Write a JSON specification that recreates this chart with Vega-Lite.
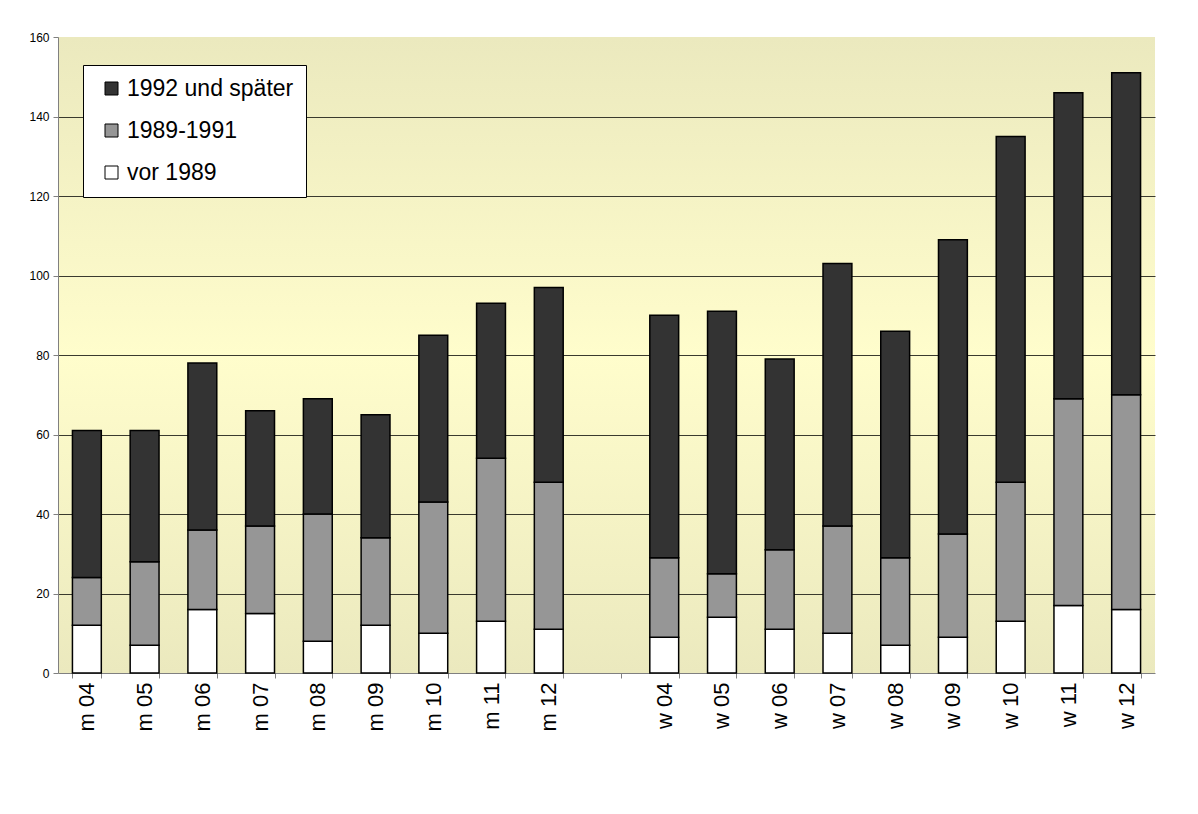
{
  "$schema": "https://vega.github.io/schema/vega-lite/v6.json",
  "autosize": "none",
  "padding": {"left": 58, "top": 37, "right": 43, "bottom": 141},
  "width": 1097,
  "height": 636,
  "background": "white",
  "config": {
    "font": "Liberation Sans",
    "view": {
      "stroke": null,
      "fill": {
        "gradient": "linear",
        "x1": 0, "y1": 0, "x2": 0, "y2": 1,
        "stops": [
          {"offset": 0, "color": "#ebe9be"},
          {"offset": 0.5, "color": "#fffdcc"},
          {"offset": 1, "color": "#ebe9be"}
        ]
      }
    }
  },
  "datasets": {
    "periods": [
      {"period": "vor 1989", "rank": 1},
      {"period": "1989-1991", "rank": 2},
      {"period": "1992 und später", "rank": 3}
    ]
  },
  "data": {
    "values": [
      {"group": "m 04", "vor 1989": 12, "1989-1991": 12, "1992 und später": 37},
      {"group": "m 05", "vor 1989": 7, "1989-1991": 21, "1992 und später": 33},
      {"group": "m 06", "vor 1989": 16, "1989-1991": 20, "1992 und später": 42},
      {"group": "m 07", "vor 1989": 15, "1989-1991": 22, "1992 und später": 29},
      {"group": "m 08", "vor 1989": 8, "1989-1991": 32, "1992 und später": 29},
      {"group": "m 09", "vor 1989": 12, "1989-1991": 22, "1992 und später": 31},
      {"group": "m 10", "vor 1989": 10, "1989-1991": 33, "1992 und später": 42},
      {"group": "m 11", "vor 1989": 13, "1989-1991": 41, "1992 und später": 39},
      {"group": "m 12", "vor 1989": 11, "1989-1991": 37, "1992 und später": 49},
      {"group": "w 04", "vor 1989": 9, "1989-1991": 20, "1992 und später": 61},
      {"group": "w 05", "vor 1989": 14, "1989-1991": 11, "1992 und später": 66},
      {"group": "w 06", "vor 1989": 11, "1989-1991": 20, "1992 und später": 48},
      {"group": "w 07", "vor 1989": 10, "1989-1991": 27, "1992 und später": 66},
      {"group": "w 08", "vor 1989": 7, "1989-1991": 22, "1992 und später": 57},
      {"group": "w 09", "vor 1989": 9, "1989-1991": 26, "1992 und später": 74},
      {"group": "w 10", "vor 1989": 13, "1989-1991": 35, "1992 und später": 87},
      {"group": "w 11", "vor 1989": 17, "1989-1991": 52, "1992 und später": 77},
      {"group": "w 12", "vor 1989": 16, "1989-1991": 54, "1992 und später": 81}
    ]
  },
  "transform": [
    {"fold": ["vor 1989", "1989-1991", "1992 und später"], "as": ["period", "count"]},
    {"lookup": "period", "from": {"data": {"name": "periods"}, "key": "period", "fields": ["rank"]}}
  ],
  "mark": {"type": "bar", "stroke": "black", "strokeWidth": 1.5},
  "encoding": {
    "x": {
      "field": "group",
      "type": "nominal",
      "scale": {
        "domain": ["m 04", "m 05", "m 06", "m 07", "m 08", "m 09", "m 10", "m 11", "m 12", "",
                   "w 04", "w 05", "w 06", "w 07", "w 08", "w 09", "w 10", "w 11", "w 12"],
        "paddingInner": 0.5,
        "paddingOuter": 0.25
      },
      "axis": {
        "title": null,
        "labelAngle": -90,
        "labelFontSize": 22,
        "labelColor": "black",
        "labelPadding": 4,
        "tickBand": "extent",
        "tickColor": "#808080",
        "tickSize": 5,
        "domainColor": "#808080",
        "grid": false
      }
    },
    "y": {
      "field": "count",
      "type": "quantitative",
      "stack": "zero",
      "scale": {"domain": [0, 160], "nice": false},
      "axis": {
        "title": null,
        "values": [0, 20, 40, 60, 80, 100, 120, 140, 160],
        "labelFontSize": 12,
        "labelColor": "black",
        "labelPadding": 4,
        "tickColor": "#808080",
        "tickSize": 5,
        "domainColor": "#808080",
        "grid": true,
        "gridColor": {
          "condition": {"test": "datum.value === 0 || datum.value === 160", "value": "transparent"},
          "value": "#3a3a2e"
        },
        "gridOpacity": 1,
        "gridWidth": 1
      }
    },
    "order": {"field": "rank", "type": "quantitative", "sort": "ascending"},
    "color": {
      "field": "period",
      "type": "nominal",
      "scale": {
        "domain": ["vor 1989", "1989-1991", "1992 und später"],
        "range": ["#ffffff", "#969696", "#333333"]
      },
      "legend": {
        "title": null,
        "orient": "none",
        "legendX": 25,
        "legendY": 28,
        "values": ["1992 und später", "1989-1991", "vor 1989"],
        "fillColor": "white",
        "strokeColor": "black",
        "padding": 12,
        "symbolOffset": 5,
        "symbolType": "square",
        "symbolSize": 169,
        "symbolStrokeColor": "black",
        "symbolStrokeWidth": 1,
        "labelFontSize": 23,
        "labelColor": "black",
        "labelOffset": 4,
        "labelLimit": 400,
        "rowPadding": 18
      }
    }
  }
}
